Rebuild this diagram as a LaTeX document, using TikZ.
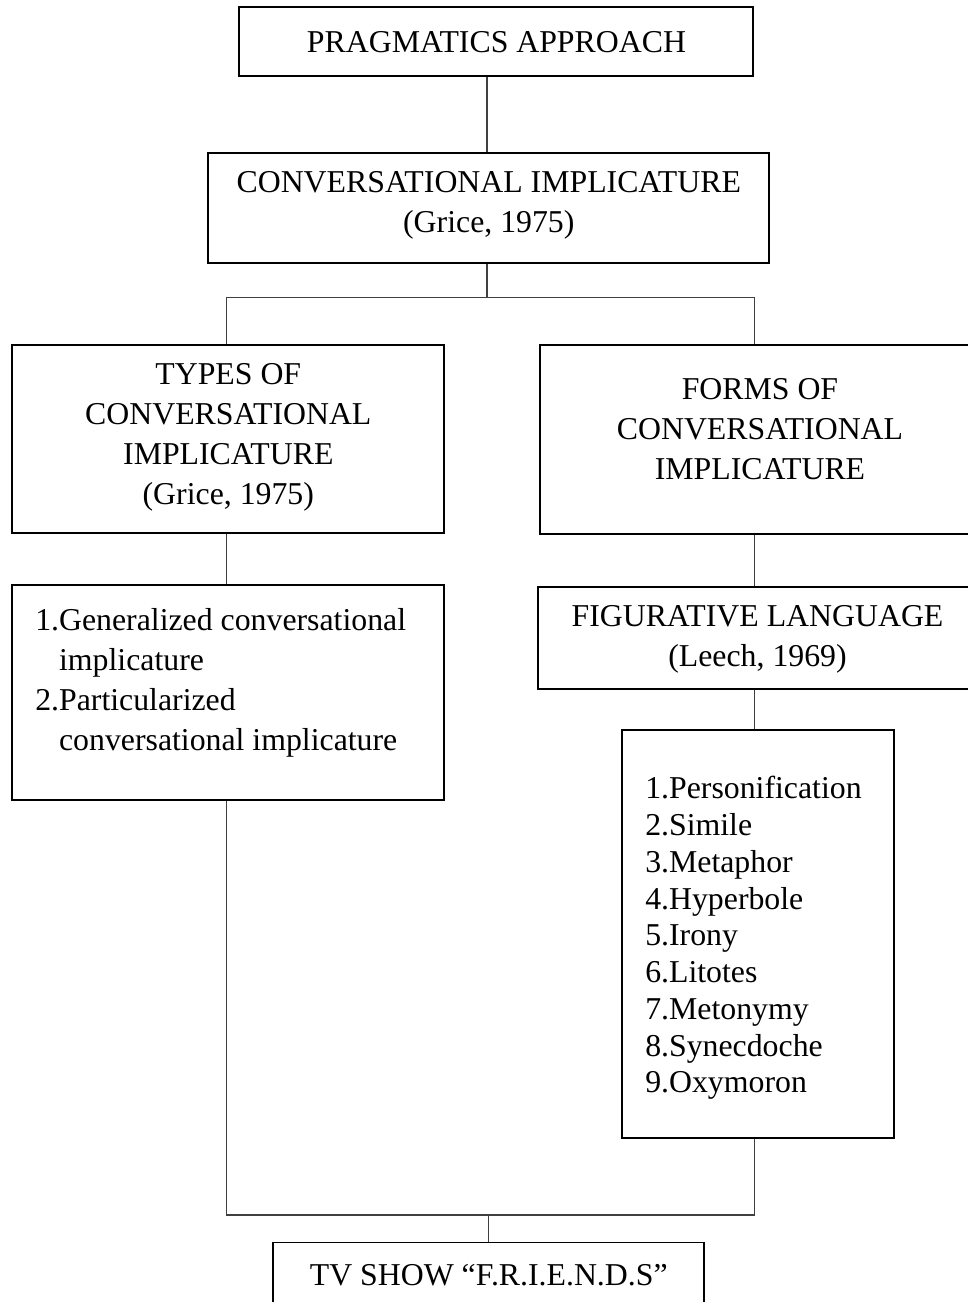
\documentclass[tikz,border=0pt]{standalone}
\usepackage{fontspec}
\setmainfont{Liberation Serif}
\begin{document}
\begin{tikzpicture}[x=0.75pt,y=-0.75pt,
  box/.style={draw=black, line width=1.4pt, rectangle, inner sep=0pt},
  txt/.style={inner sep=0pt, align=center, font=\fontsize{23.85pt}{30pt}\selectfont},
  ltxt/.style={inner sep=0pt, align=left, anchor=west, font=\fontsize{23.85pt}{30pt}\selectfont},
  list/.style={inner sep=0pt, align=left, anchor=west, font=\fontsize{23.85pt}{27.56pt}\selectfont},
  conn/.style={draw=black!75, line width=0.8pt}]
\useasboundingbox (0,0) rectangle (967,1302);
% boxes
\node[box, minimum width=385.5pt, minimum height=51.5pt] (prag) at (496.3,41.4) {};
\node[box, minimum width=420.75pt, minimum height=82.5pt] (conv) at (488.8,207.7) {};
\node[box, minimum width=324pt, minimum height=141.2pt] (types) at (228.3,439.2) {};
\node[box, minimum width=329.6pt, minimum height=142pt] (forms) at (760,439.7) {};
\node[box, minimum width=324pt, minimum height=161.2pt] (gen) at (228.3,692.5) {};
\node[box, minimum width=329.3pt, minimum height=77pt] (fig) at (757.5,638) {};
\node[box, minimum width=203.8pt, minimum height=306.2pt] (lst) at (758.2,934.2) {};
\node[box, minimum width=323.3pt, minimum height=60pt] (tv) at (488.75,1282.5) {};
% texts
\node[txt] (pragtxt) at (496.5,42) {PRAGMATICS APPROACH};
\node[txt] (convtxt) at (488.8,205) {CONVERSATIONAL IMPLICATURE\\(Grice, 1975)};
\node[txt] (typestxt) at (228.3,437.5) {TYPES OF\\CONVERSATIONAL\\IMPLICATURE\\(Grice, 1975)};
\node[txt] (formstxt) at (760,429) {FORMS OF\\CONVERSATIONAL\\IMPLICATURE};
\node[ltxt] (gentxt) at (35,683) {1.Generalized conversational\\\phantom{1.}implicature\\2.Particularized\\\phantom{2.}conversational implicature};
\node[txt] (figtxt) at (757.5,639) {FIGURATIVE LANGUAGE\\(Leech, 1969)};
\node[list] (lsttxt) at (645,938) {1.Personification\\2.Simile\\3.Metaphor\\4.Hyperbole\\5.Irony\\6.Litotes\\7.Metonymy\\8.Synecdoche\\9.Oxymoron};
\node[txt] (tvtxt) at (488.75,1275.5) {TV SHOW “F.R.I.E.N.D.S”};
% connector guide coordinates
\coordinate (spine) at (487,0);
\coordinate (lcol) at (226.7,0);
\coordinate (rcol) at (754.7,0);
\coordinate (bspine) at (488.6,0);
\coordinate (topbar) at (0,297.3);
\coordinate (botbar) at (0,1215);
% connectors
\draw[conn] (spine |- prag.south) -- (spine |- conv.north);
\draw[conn] (spine |- conv.south) -- (spine |- topbar);
\draw[conn] (lcol |- types.north) -- (lcol |- topbar) -- (rcol |- topbar) -- (rcol |- forms.north);
\draw[conn] (lcol |- types.south) -- (lcol |- gen.north);
\draw[conn] (rcol |- forms.south) -- (rcol |- fig.north);
\draw[conn] (rcol |- fig.south) -- (rcol |- lst.north);
\draw[conn] (lcol |- gen.south) -- (lcol |- botbar) -- (rcol |- botbar) -- (rcol |- lst.south);
\draw[conn] (bspine |- botbar) -- (bspine |- tv.north);
\end{tikzpicture}
\end{document}
